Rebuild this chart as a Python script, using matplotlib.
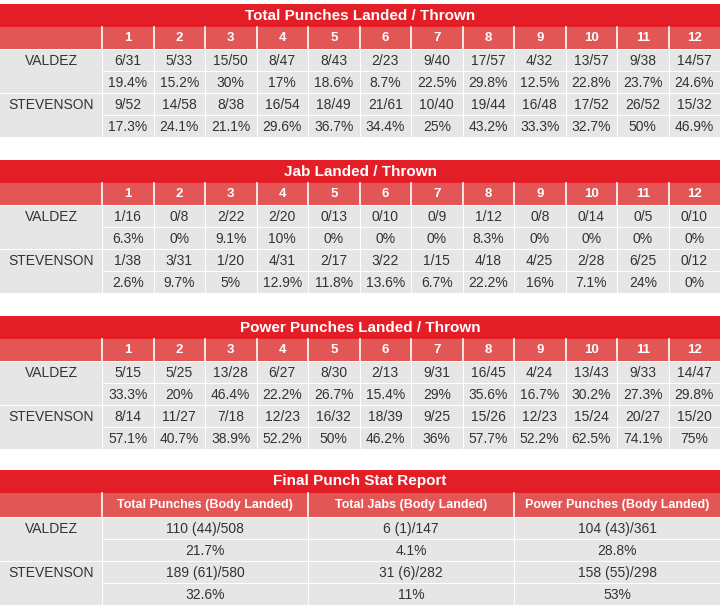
import matplotlib
matplotlib.use("Agg")
import matplotlib.pyplot as plt
from matplotlib.patches import Rectangle

fighters = ["VALDEZ", "STEVENSON"]
rounds = [str(i) for i in range(1, 13)]

total_valdez = ["6/31","5/33","15/50","8/47","8/43","2/23","9/40","17/57","4/32","13/57","9/38","14/57"]
total_valdez_pct = ["19.4%","15.2%","30%","17%","18.6%","8.7%","22.5%","29.8%","12.5%","22.8%","23.7%","24.6%"]
total_stev = ["9/52","14/58","8/38","16/54","18/49","21/61","10/40","19/44","16/48","17/52","26/52","15/32"]
total_stev_pct = ["17.3%","24.1%","21.1%","29.6%","36.7%","34.4%","25%","43.2%","33.3%","32.7%","50%","46.9%"]

jab_valdez = ["1/16","0/8","2/22","2/20","0/13","0/10","0/9","1/12","0/8","0/14","0/5","0/10"]
jab_valdez_pct = ["6.3%","0%","9.1%","10%","0%","0%","0%","8.3%","0%","0%","0%","0%"]
jab_stev = ["1/38","3/31","1/20","4/31","2/17","3/22","1/15","4/18","4/25","2/28","6/25","0/12"]
jab_stev_pct = ["2.6%","9.7%","5%","12.9%","11.8%","13.6%","6.7%","22.2%","16%","7.1%","24%","0%"]

pow_valdez = ["5/15","5/25","13/28","6/27","8/30","2/13","9/31","16/45","4/24","13/43","9/33","14/47"]
pow_valdez_pct = ["33.3%","20%","46.4%","22.2%","26.7%","15.4%","29%","35.6%","16.7%","30.2%","27.3%","29.8%"]
pow_stev = ["8/14","11/27","7/18","12/23","16/32","18/39","9/25","15/26","12/23","15/24","20/27","15/20"]
pow_stev_pct = ["57.1%","40.7%","38.9%","52.2%","50%","46.2%","36%","57.7%","52.2%","62.5%","74.1%","75%"]

final_headers = ["Total Punches (Body Landed)", "Total Jabs (Body Landed)", "Power Punches (Body Landed)"]
final_valdez = ["110 (44)/508", "6 (1)/147", "104 (43)/361"]
final_valdez_pct = ["21.7%", "4.1%", "28.8%"]
final_stev = ["189 (61)/580", "31 (6)/282", "158 (55)/298"]
final_stev_pct = ["32.6%", "11%", "53%"]

titles = ["Total Punches Landed / Thrown", "Jab Landed / Thrown", "Power Punches Landed / Thrown", "Final Punch Stat Report"]

RED = "#e41e26"
HDR = "#e25656"
CELL = "#e6e6e6"
FONT = "Liberation Sans"

fig = plt.figure(figsize=(7.2, 6.06), dpi=100)
ax = fig.add_axes([0, 0, 1, 1])
ax.set_xlim(0, 720)
ax.set_ylim(606, 0)
ax.axis("off")

def rect(x0, y0, x1, y1, c):
    ax.add_patch(Rectangle((x0, y0), x1 - x0, y1 - y0, facecolor=c, edgecolor="none"))

def txt(x, y, s, color="#333333", bold=False, size=10):
    ax.text(x, y, s, ha="center", va="center", color=color, fontsize=size,
            fontweight="bold" if bold else "normal", family=FONT)

def section(top, title, headers, rows, rh=22, hh=22, th=23):
    W = 720
    name_w = 102
    n = len(headers)
    cw = (W - name_w) / n
    rect(0, top, W, top + th, RED)
    txt(W / 2, top + th / 2, title, color="white", bold=True, size=11)
    y = top + th
    rect(0, y, W, y + hh, HDR)
    for i, h in enumerate(headers):
        x0 = name_w + i * cw
        ax.plot([x0, x0], [y, y + hh], color="white", lw=1.2)
        txt(x0 + cw / 2, y + hh / 2, h, color="white", bold=True, size=9.5 if n > 3 else 9)
    y += hh
    for fi, name in enumerate(fighters):
        rect(0, y + 1, name_w, y + 2 * rh, CELL)
        txt(name_w / 2, y + rh / 2 + 1, name)
        for r in range(2):
            vals = rows[fi * 2 + r]
            for i, v in enumerate(vals):
                x0 = name_w + i * cw
                rect(x0 + 1, y + r * rh + 1, x0 + cw, y + (r + 1) * rh, CELL)
                txt(x0 + cw / 2, y + r * rh + rh / 2 + 1, v)
        y += 2 * rh

section(4, titles[0], rounds, [total_valdez, total_valdez_pct, total_stev, total_stev_pct])
section(160, titles[1], rounds, [jab_valdez, jab_valdez_pct, jab_stev, jab_stev_pct])
section(316, titles[2], rounds, [pow_valdez, pow_valdez_pct, pow_stev, pow_stev_pct])
section(470, titles[3], final_headers, [final_valdez, final_valdez_pct, final_stev, final_stev_pct], hh=24)

fig.savefig("out.png", dpi=100)
